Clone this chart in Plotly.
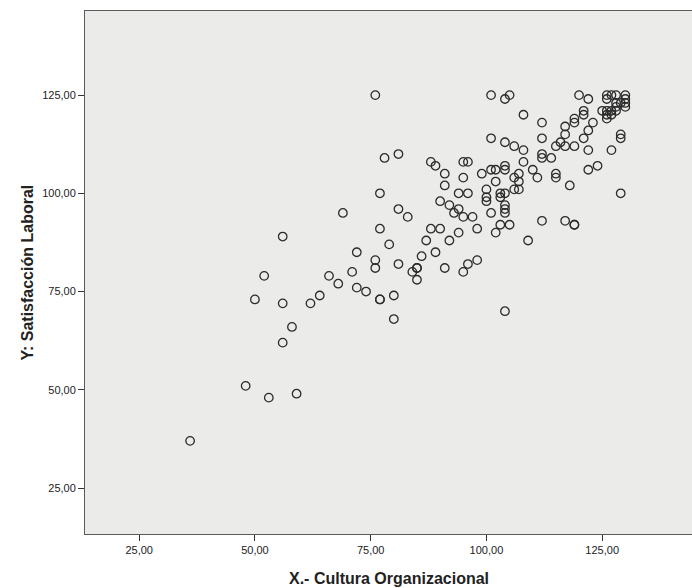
import plotly.graph_objects as go

# X.- Cultura Organizacional (x) and Y: Satisfacción Laboral (y)
cultura = [36, 48, 53, 59, 56, 58, 50, 52, 56, 62, 64, 66, 68, 71, 72, 74, 72, 76, 76, 77,
           77, 80, 80, 81, 84, 85, 85, 85, 86, 89, 91, 56, 76, 78, 81, 88, 89, 91, 91, 77,
           69, 81, 83, 77, 79, 88, 90, 87, 92, 90, 92, 93, 94, 94, 94, 101, 104, 105, 101, 104,
           95, 96, 95, 99, 101, 102, 104, 104, 102, 96, 100, 100, 100, 103, 104, 103, 95, 97, 101, 104,
           104, 104, 98, 102, 103, 105, 95, 96, 98, 104, 106, 108, 108, 112, 112, 108, 112, 112, 114, 110,
           111, 115, 115, 118, 120, 122, 121, 121, 119, 119, 117, 117, 123, 122, 121, 116, 115, 117, 119, 122,
           127, 122, 124, 129, 129, 129, 126, 127, 128, 130, 130, 130, 130, 126, 128, 129, 125, 126, 127, 128,
           126, 127, 126, 128, 106, 107, 107, 106, 107, 109, 112, 117, 119, 119]
satisfaccion = [37, 51, 48, 49, 62, 66, 73, 79, 72, 72, 74, 79, 77, 80, 76, 75, 85, 83, 81, 73,
                73, 74, 68, 82, 80, 81, 81, 78, 84, 85, 81, 89, 125, 109, 110, 108, 107, 105, 102, 100,
                95, 96, 94, 91, 87, 91, 91, 88, 88, 98, 97, 95, 100, 96, 90, 125, 124, 125, 114, 113,
                108, 108, 104, 105, 106, 106, 107, 106, 103, 100, 101, 99, 98, 100, 100, 99, 94, 94, 95, 97,
                96, 95, 91, 90, 92, 92, 80, 82, 83, 70, 112, 111, 120, 118, 114, 108, 110, 109, 109, 106,
                104, 105, 104, 102, 125, 124, 121, 120, 119, 118, 117, 115, 118, 116, 114, 113, 112, 112, 112, 111,
                111, 106, 107, 115, 114, 100, 125, 125, 125, 125, 124, 123, 122, 124, 123, 123, 121, 121, 121, 121,
                120, 120, 119, 122, 104, 105, 103, 101, 101, 88, 93, 93, 92, 92]

tick_vals = [25, 50, 75, 100, 125]
tick_text = ["25,00", "50,00", "75,00", "100,00", "125,00"]

W, H = 692, 588
ML, MR, MT, MB = 85, 0, 11, 54

fig = go.Figure()
fig.add_trace(go.Scatter(
    x=cultura, y=satisfaccion, mode="markers",
    marker=dict(symbol="circle-open", size=8.5, color="#2b2b2b",
                line=dict(width=1.3, color="#2b2b2b")),
    hoverinfo="x+y", showlegend=False,
))

fig.update_layout(
    width=W, height=H,
    margin=dict(l=ML, r=MR, t=MT, b=MB, pad=0),
    paper_bgcolor="white",
    plot_bgcolor="#EBEBEA",
    font=dict(family="Liberation Sans, Arial, sans-serif", size=11, color="#222222"),
    xaxis=dict(range=[13.3, 144.4], tickvals=tick_vals, ticktext=tick_text,
               showgrid=False, zeroline=False, showline=True, linecolor="#5a5a5a",
               linewidth=1, mirror=True, ticks="outside", ticklen=6, tickcolor="#333333",
               tickfont=dict(size=11, color="#222222")),
    yaxis=dict(range=[13.3, 146.4], tickvals=tick_vals, ticktext=tick_text,
               showgrid=False, zeroline=False, showline=True, linecolor="#5a5a5a",
               linewidth=1, mirror=False, ticks="outside", ticklen=6, tickcolor="#333333",
               tickfont=dict(size=11, color="#222222")),
    annotations=[
        dict(text="<b>X.- Cultura Organizacional</b>", xref="paper", yref="paper",
             x=0.5, y=-(578 - (H - MB)) / (H - MT - MB), xanchor="center", yanchor="middle",
             showarrow=False, font=dict(size=16, color="#222222")),
        dict(text="<b>Y: Satisfacción Laboral</b>", xref="paper", yref="paper",
             x=-(ML - 27) / (W - ML - MR), y=0.5, xanchor="center", yanchor="middle",
             textangle=-90, showarrow=False, font=dict(size=16, color="#222222")),
    ],
)

fig.write_html("out.html")
